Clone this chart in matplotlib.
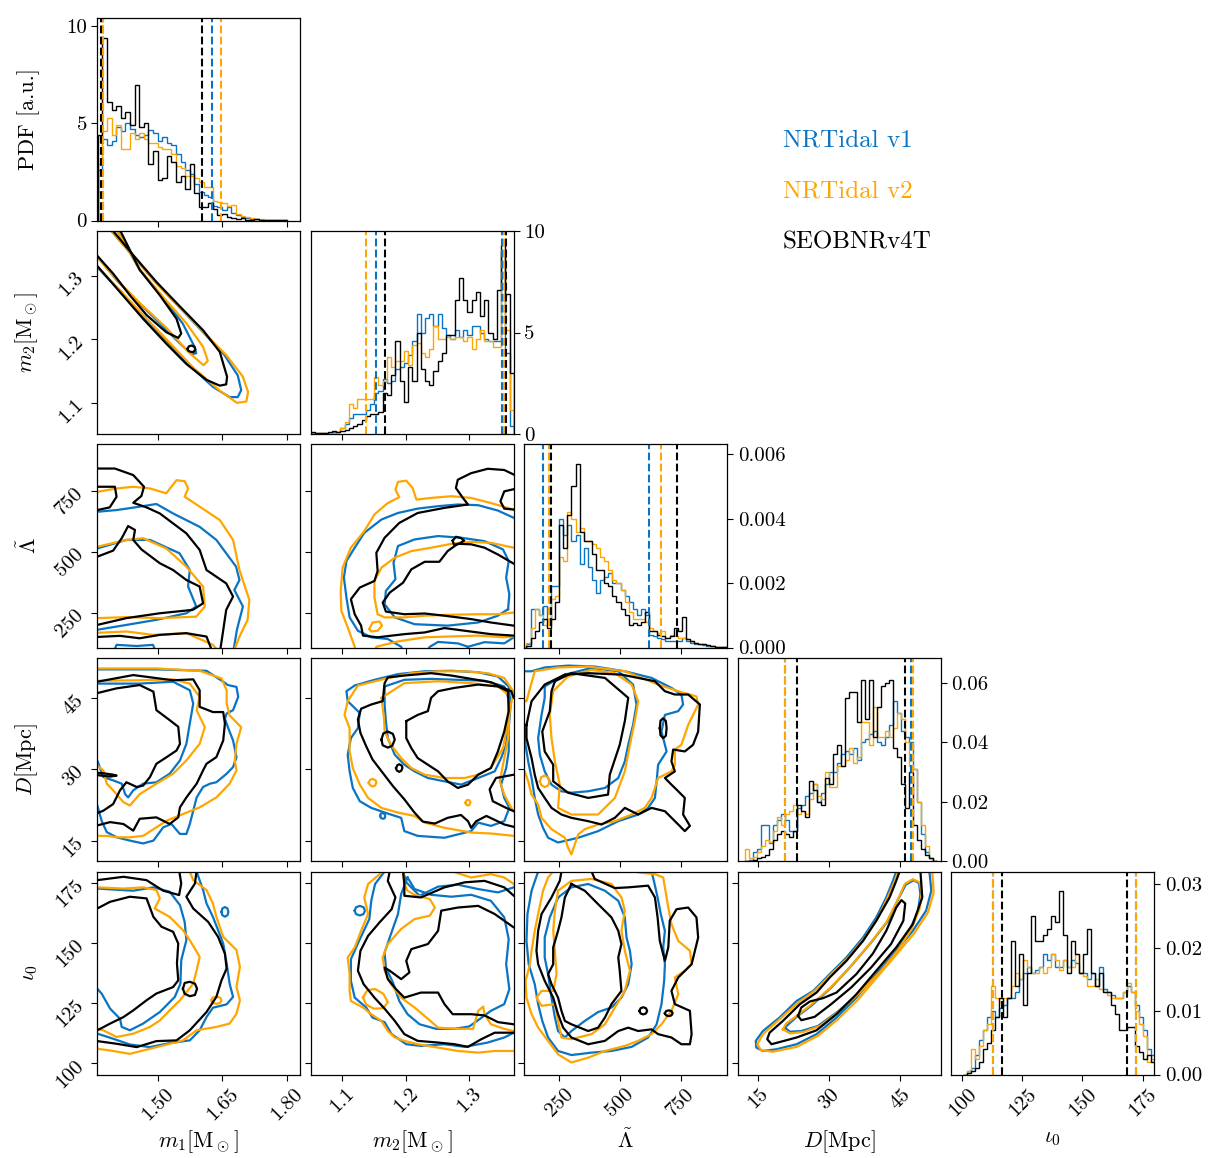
import numpy as np
import matplotlib
matplotlib.use("Agg")
import matplotlib.pyplot as plt
from matplotlib.ticker import FixedLocator

plt.rcParams["font.family"] = "serif"
plt.rcParams["font.serif"] = ["cmr10"]
plt.rcParams["mathtext.fontset"] = "cm"
plt.rcParams["axes.unicode_minus"] = False
plt.rcParams["axes.formatter.use_mathtext"] = True

models = ["NRTidal v1", "NRTidal v2", "SEOBNRv4T"]
colors = ["#0a74c4", "orange", "black"]

axis_labels = [r"$m_1[\mathrm{M}_\odot]$", r"$m_2[\mathrm{M}_\odot]$",
               r"$\tilde{\Lambda}$", r"$D[\mathrm{Mpc}]$", r"$\iota_0$"]
axis_limits = [(1.358, 1.832), (1.051, 1.370), (106, 942), (10.7, 53.5), (95.4, 179.9)]
axis_ticks = [[1.50, 1.65, 1.80], [1.1, 1.2, 1.3], [250, 500, 750], [15, 30, 45], [100, 125, 150, 175]]
tick_text = [["1.50", "1.65", "1.80"], ["1.1", "1.2", "1.3"], ["250", "500", "750"],
             ["15", "30", "45"], ["100", "125", "150", "175"]]
pdf_top = [10.45, 10.0, 0.0063, 0.0685, 0.032]
pdf_ticks = [[0, 5, 10], [0, 5, 10], [0, 0.002, 0.004, 0.006], [0, 0.02, 0.04, 0.06], [0, 0.01, 0.02, 0.03]]
pdf_text = [["0", "5", "10"], ["0", "5", "10"], ["0.000", "0.002", "0.004", "0.006"],
            ["0.00", "0.02", "0.04", "0.06"], ["0.00", "0.01", "0.02", "0.03"]]

# ---------------- 1D marginals (step histograms) ----------------
m1_edges = np.linspace(1.359, 1.800, 42)
m1_v1 = [2.6, 4.2, 3.9, 4.1, 4.8, 4.6, 5.0, 4.7, 4.4, 4.3, 4.4, 4.65, 4.5, 4.1, 4.3, 4.0, 3.9, 3.4, 3.0, 2.6,
         2.4, 1.9, 1.45, 1.3, 1.2, 0.75, 0.7, 0.55, 0.7, 0.4, 0.3, 0.2, 0.15, 0.1, 0.1, 0.05, 0.05, 0.03, 0.02,
         0.01, 0.01]
m1_v2 = [2.9, 4.6, 5.3, 4.4, 4.9, 3.7, 3.7, 4.5, 4.2, 4.5, 4.2, 4.0, 4.0, 3.8, 3.7, 3.7, 3.4, 2.8, 2.7, 2.3,
         2.3, 2.2, 2.0, 1.7, 1.7, 1.0, 0.95, 0.9, 0.75, 0.8, 0.35, 0.25, 0.2, 0.15, 0.1, 0.08, 0.05, 0.03, 0.02,
         0.01, 0.01]
m1_v4t = [4.4, 9.4, 6.1, 5.7, 5.9, 5.3, 5.6, 4.9, 7.0, 4.8, 5.0, 2.9, 3.6, 2.1, 2.2, 3.3, 3.0, 2.0, 2.3, 1.6,
          2.9, 1.4, 0.7, 0.7, 0.9, 0.6, 0.3, 0.35, 0.2, 0.15, 0.1, 0.15, 0.05, 0.05, 0.1, 0.05, 0.02, 0.02, 0.05,
          0.02, 0.01]

m2_edges = np.linspace(1.051, 1.370, 49)
m2_v1 = [0.03, 0.03, 0.03, 0.03, 0.05, 0.1, 0.1, 0.3, 0.5, 0.8, 1.0, 1.0, 1.0, 1.2, 1.5, 2.0, 2.1, 2.7, 2.5, 2.6,
         3.2, 3.3, 3.5, 3.9, 4.6, 5.9, 5.0, 5.7, 5.9, 5.3, 5.9, 5.2, 4.9, 4.7, 5.1, 4.8, 5.1, 4.9, 5.3, 5.3,
         5.0, 4.7, 4.6, 4.6, 4.6, 9.0, 4.0, 0.4]
m2_v2 = [0.05, 0.05, 0.05, 0.05, 0.05, 0.05, 0.1, 0.3, 0.6, 1.5, 1.3, 1.7, 1.7, 1.7, 1.7, 2.8, 2.4, 2.6, 3.8, 3.3,
         3.6, 3.6, 4.1, 3.4, 4.4, 4.5, 4.0, 3.8, 4.2, 5.3, 4.7, 4.7, 4.8, 4.7, 4.8, 4.8, 4.6, 4.8, 4.2, 4.7,
         5.1, 4.6, 4.6, 4.3, 4.3, 9.0, 5.1, 1.2]
m2_v4t = [0.1, 0.05, 0.05, 0.05, 0.1, 0.15, 0.1, 0.15, 0.2, 0.3, 0.4, 0.5, 0.7, 0.9, 1.0, 1.0, 1.1, 2.0, 1.9, 2.9,
          4.6, 2.6, 1.6, 3.3, 2.6, 5.0, 3.2, 2.6, 2.4, 3.1, 3.6, 4.0, 4.9, 4.9, 6.6, 7.7, 6.6, 6.0, 6.6, 7.0,
          5.8, 6.6, 5.0, 4.7, 7.1, 9.3, 6.9, 3.0]

lam_edges = np.linspace(115, 940, 50)
lam_v1 = np.array([0.1, 1.2, 1.2, 1.0, 1.3, 0.9, 1.9, 1.9, 4.0, 3.5, 3.8, 3.3, 3.5, 2.6, 3.1, 2.5, 2.1, 1.7, 2.1,
                   2.2, 2.3, 2.0, 2.0, 1.8, 1.6, 1.4, 1.2, 1.0, 1.2, 1.0, 0.4, 0.35, 0.3, 0.25, 0.2, 0.2, 0.2,
                   0.2, 0.3, 0.2, 0.15, 0.1, 0.1, 0.08, 0.05, 0.04, 0.03, 0.02, 0.01]) * 1e-3
lam_v2 = np.array([0.15, 0.6, 1.2, 1.0, 0.7, 0.7, 1.5, 1.6, 2.8, 2.7, 4.2, 4.0, 3.6, 3.7, 3.3, 3.3, 3.2, 3.1, 2.8,
                   2.7, 2.4, 2.1, 2.0, 1.8, 1.4, 1.1, 0.9, 0.9, 0.9, 0.8, 0.6, 0.5, 0.45, 0.5, 0.3, 0.4, 0.35,
                   0.3, 0.3, 0.25, 0.2, 0.15, 0.1, 0.1, 0.07, 0.05, 0.03, 0.02, 0.01]) * 1e-3
lam_v4t = np.array([0.05, 0.3, 0.5, 0.8, 0.9, 0.6, 0.9, 1.4, 3.8, 3.1, 4.1, 5.0, 5.7, 3.6, 3.3, 3.3, 2.9, 2.4, 2.4,
                    2.0, 1.9, 1.6, 1.4, 1.2, 1.0, 0.7, 0.75, 0.7, 0.8, 1.1, 0.5, 0.5, 0.4, 0.35, 0.3, 0.35, 0.6,
                    0.5, 0.95, 0.25, 0.2, 0.15, 0.1, 0.1, 0.07, 0.05, 0.03, 0.02, 0.01]) * 1e-3

dist_edges = np.linspace(12.2, 52.6, 49)
dist_v1 = np.array([0, 0.05, 0.3, 0.4, 1.2, 1.2, 0.6, 1.2, 1.4, 1.6, 1.4, 1.0, 1.0, 1.8, 1.9, 2.2, 2.3, 2.6, 2.0,
                    2.3, 2.6, 3.0, 3.0, 3.3, 3.6, 3.7, 3.6, 3.8, 3.4, 4.0, 4.1, 4.3, 4.4, 4.0, 3.9, 4.2, 4.6, 5.4,
                    5.0, 4.4, 4.2, 4.0, 3.1, 2.0, 0.9, 0.3, 0.1, 0.0]) * 1e-2
dist_v2 = np.array([0.4, 0.1, 0.15, 0.3, 0.5, 0.7, 0.65, 1.0, 1.5, 1.2, 1.6, 1.7, 1.9, 1.6, 1.7, 1.6, 2.1, 2.6, 2.2,
                    2.1, 3.0, 2.5, 2.5, 3.2, 3.2, 3.4, 3.8, 3.3, 3.5, 4.7, 4.7, 3.9, 5.2, 4.2, 4.2, 4.4, 4.2, 4.5,
                    5.0, 4.8, 4.0, 3.2, 3.1, 2.0, 1.2, 0.5, 0.1, 0.0]) * 1e-2
dist_v4t = np.array([0, 0, 0.05, 0.1, 0.15, 0.2, 0.4, 0.7, 0.9, 1.0, 0.9, 0.8, 1.0, 1.9, 1.7, 1.5, 2.7, 2.4, 2.0,
                     1.9, 2.8, 2.6, 3.6, 3.9, 3.2, 5.5, 5.7, 5.7, 4.7, 6.1, 4.8, 6.1, 4.2, 5.2, 5.9, 6.0, 6.1, 3.8,
                     3.5, 2.6, 1.8, 3.0, 1.2, 0.7, 0.4, 0.2, 0.1, 0.0]) * 1e-2

iota_edges = np.linspace(100.3, 180.2, 49)
iota_v1 = np.array([0, 0.05, 0.1, 0.3, 0.55, 0.7, 0.9, 1.0, 0.9, 1.05, 1.1, 1.2, 1.2, 1.3, 1.5, 1.6, 1.7, 1.6,
                    1.65, 1.7, 1.9, 1.8, 1.9, 1.7, 1.7, 1.8, 1.7, 1.8, 1.75, 1.6, 1.6, 1.5, 1.6, 1.4, 1.7, 1.35,
                    1.3, 1.25, 1.2, 1.2, 1.3, 1.4, 1.3, 1.1, 0.9, 0.7, 0.4, 0.3]) * 1e-2
iota_v2 = np.array([0, 0.05, 0.4, 0.25, 0.45, 0.7, 0.8, 1.4, 1.2, 1.15, 1.2, 1.2, 1.4, 1.6, 1.5, 1.8, 1.7, 1.6,
                    1.6, 1.7, 1.6, 1.7, 1.9, 1.8, 1.65, 1.8, 1.7, 1.7, 1.9, 1.6, 1.55, 1.4, 1.4, 1.5, 1.35, 1.3,
                    1.25, 1.2, 1.2, 1.2, 1.3, 1.45, 1.3, 1.0, 0.8, 0.6, 0.2, 0.25]) * 1e-2
iota_v4t = np.array([0.0, 0.02, 0.05, 0.1, 0.2, 0.4, 0.5, 0.7, 0.9, 1.2, 0.9, 1.2, 2.1, 1.4, 1.9, 1.1, 1.6, 2.5,
                     2.1, 2.1, 2.2, 2.3, 2.5, 2.4, 2.9, 2.2, 1.6, 2.1, 1.9, 1.6, 1.9, 2.3, 1.6, 1.4, 1.6, 1.3,
                     1.3, 1.1, 0.95, 0.7, 0.7, 0.75, 0.75, 0.45, 0.35, 0.25, 0.3, 0.2]) * 1e-2

# 90% credible bounds (dashed lines)
m1_ci = [[1.371, 1.626], [1.372, 1.646], [1.367, 1.603]]
m2_ci = [[1.153, 1.351], [1.138, 1.354], [1.168, 1.357]]
lam_ci = [[183, 619], [208, 667], [218, 735]]
dist_ci = [[20.6, 47.3], [20.75, 47.6], [23.1, 46.0]]
iota_ci = [[112.6, 172.1], [112.7, 172.4], [116.6, 168.5]]


# ---------------- 2D credible contours ----------------
def L(pts):
    return ("line", pts)


def C(pts):
    return ("loop", pts)


# m1 - m2
m1_m2_v1 = [
    L([(1.380, 1.379), (1.391, 1.370), (1.442, 1.330), (1.496, 1.288), (1.550, 1.250), (1.605, 1.211),
       (1.655, 1.175), (1.686, 1.143), (1.694, 1.120), (1.686, 1.109), (1.667, 1.109), (1.628, 1.125),
       (1.578, 1.156), (1.519, 1.198), (1.465, 1.236), (1.411, 1.276), (1.358, 1.313), (1.345, 1.322)]),
    L([(1.395, 1.379), (1.405, 1.370), (1.457, 1.309), (1.512, 1.265), (1.558, 1.224), (1.585, 1.188),
       (1.589, 1.178), (1.578, 1.176), (1.550, 1.194), (1.504, 1.225), (1.457, 1.256), (1.403, 1.293),
       (1.358, 1.330), (1.345, 1.339)]),
]
m1_m2_v2 = [
    L([(1.380, 1.379), (1.391, 1.370), (1.442, 1.330), (1.496, 1.288), (1.550, 1.250), (1.605, 1.212),
       (1.659, 1.175), (1.698, 1.141), (1.710, 1.117), (1.706, 1.102), (1.684, 1.100), (1.644, 1.119),
       (1.581, 1.156), (1.519, 1.200), (1.465, 1.238), (1.411, 1.277), (1.358, 1.314), (1.345, 1.323)]),
    L([(1.395, 1.379), (1.405, 1.370), (1.457, 1.310), (1.512, 1.266), (1.566, 1.225), (1.605, 1.188),
       (1.616, 1.166), (1.606, 1.159), (1.574, 1.178), (1.519, 1.218), (1.457, 1.257), (1.403, 1.294),
       (1.358, 1.329), (1.345, 1.337)]),
]
m1_m2_v4t = [
    L([(1.384, 1.379), (1.395, 1.370), (1.442, 1.332), (1.496, 1.290), (1.550, 1.252), (1.605, 1.214),
       (1.644, 1.180), (1.661, 1.141), (1.659, 1.129), (1.644, 1.127), (1.613, 1.136), (1.566, 1.161),
       (1.519, 1.193), (1.465, 1.232), (1.411, 1.274), (1.358, 1.315), (1.345, 1.324)]),
    L([(1.403, 1.379), (1.412, 1.370), (1.457, 1.309), (1.504, 1.269), (1.543, 1.232), (1.554, 1.209),
       (1.547, 1.202), (1.519, 1.211), (1.473, 1.238), (1.434, 1.269), (1.395, 1.303), (1.358, 1.331),
       (1.345, 1.340)]),
    C([(1.569, 1.185), (1.572, 1.189), (1.578, 1.190), (1.585, 1.188), (1.587, 1.184), (1.583, 1.180),
       (1.576, 1.180), (1.570, 1.182)]),
]

# m1 - Lambda
m1_lam_v1 = [
    L([(1.341, 665), (1.358, 665), (1.403, 672), (1.457, 686), (1.496, 697), (1.535, 658), (1.597, 603),
       (1.636, 549), (1.682, 439), (1.690, 384), (1.678, 343), (1.698, 275), (1.684, 179), (1.675, 83)]),
    L([(1.395, 83), (1.403, 117), (1.450, 112), (1.488, 117), (1.496, 83)]),
    L([(1.341, 514), (1.358, 514), (1.426, 549), (1.481, 549), (1.550, 494), (1.574, 425), (1.570, 357),
       (1.589, 275), (1.566, 247), (1.496, 220), (1.426, 199), (1.358, 179), (1.341, 176)]),
]
m1_lam_v2 = [
    L([(1.341, 747), (1.358, 747), (1.403, 761), (1.442, 768), (1.481, 761), (1.519, 741), (1.531, 768),
       (1.543, 795), (1.562, 791), (1.570, 761), (1.562, 727), (1.597, 686), (1.644, 631), (1.675, 549),
       (1.690, 425), (1.713, 302), (1.709, 220), (1.690, 151), (1.675, 83)]),
    L([(1.341, 165), (1.426, 172), (1.488, 158), (1.566, 165), (1.628, 117), (1.644, 83)]),
    L([(1.341, 521), (1.358, 521), (1.426, 549), (1.465, 556), (1.519, 514), (1.566, 439), (1.605, 357),
       (1.609, 275), (1.589, 233), (1.504, 227), (1.426, 231), (1.358, 227), (1.341, 227)]),
]
m1_lam_v4t = [
    L([(1.341, 843), (1.358, 843), (1.399, 843), (1.442, 816), (1.467, 768), (1.461, 730), (1.442, 702),
       (1.473, 683), (1.504, 658), (1.535, 617), (1.566, 576), (1.597, 508), (1.613, 425), (1.659, 370),
       (1.675, 316), (1.659, 261), (1.651, 165), (1.644, 83)]),
    L([(1.341, 148), (1.411, 154), (1.457, 144), (1.504, 158), (1.566, 165), (1.613, 151), (1.628, 83)]),
    L([(1.341, 768), (1.358, 768), (1.399, 768), (1.403, 727), (1.387, 683), (1.358, 672), (1.341, 672)]),
    L([(1.341, 480), (1.358, 480), (1.395, 505), (1.415, 556), (1.430, 606), (1.446, 590), (1.442, 549),
       (1.461, 510), (1.504, 453), (1.535, 425), (1.566, 384), (1.597, 357), (1.605, 288), (1.581, 261),
       (1.504, 247), (1.426, 227), (1.358, 199), (1.341, 195)]),
]

# m2 - Lambda
m2_lam_v1 = [
    L([(1.382, 640), (1.370, 640), (1.345, 670), (1.314, 692), (1.282, 695), (1.251, 688), (1.219, 678),
       (1.188, 660), (1.162, 633), (1.135, 578), (1.120, 517), (1.107, 462), (1.103, 394), (1.107, 312),
       (1.112, 230), (1.125, 175), (1.146, 148), (1.172, 141), (1.193, 109), (1.198, 79)]),
    L([(1.230, 79), (1.238, 109), (1.251, 129), (1.282, 123), (1.298, 109), (1.300, 79)]),
    L([(1.293, 79), (1.298, 109), (1.324, 128), (1.355, 123), (1.370, 148), (1.382, 155)]),
    C([(1.361, 264), (1.363, 325), (1.358, 394), (1.362, 462), (1.353, 510), (1.324, 544), (1.287, 558),
       (1.251, 565), (1.214, 551), (1.188, 524), (1.181, 455), (1.184, 387), (1.169, 339), (1.167, 284),
       (1.183, 230), (1.214, 202), (1.266, 196), (1.314, 209), (1.345, 237)]),
]
m2_lam_v2 = [
    L([(1.382, 674), (1.370, 674), (1.334, 701), (1.303, 722), (1.272, 729), (1.240, 722), (1.217, 715),
       (1.211, 763), (1.201, 793), (1.188, 788), (1.184, 756), (1.190, 725), (1.172, 701), (1.151, 654),
       (1.135, 585), (1.114, 517), (1.101, 435), (1.098, 339), (1.099, 257), (1.109, 189), (1.120, 109),
       (1.122, 79)]),
    L([(1.151, 79), (1.154, 109), (1.188, 131), (1.230, 148), (1.266, 151), (1.314, 155), (1.355, 148),
       (1.370, 151), (1.382, 151)]),
    L([(1.382, 517), (1.370, 517), (1.334, 537), (1.303, 541), (1.272, 533), (1.240, 517), (1.209, 503),
       (1.183, 476), (1.162, 435), (1.151, 380), (1.151, 312), (1.156, 243), (1.167, 230), (1.198, 230),
       (1.230, 237), (1.272, 241), (1.314, 243), (1.345, 243), (1.370, 250), (1.382, 250)]),
    C([(1.143, 182), (1.148, 209), (1.159, 213), (1.163, 196), (1.156, 175), (1.146, 172)]),
]
m2_lam_v4t = [
    L([(1.382, 818), (1.370, 818), (1.355, 837), (1.329, 842), (1.303, 824), (1.282, 797), (1.279, 763),
       (1.290, 722), (1.298, 695), (1.261, 681), (1.219, 660), (1.190, 619), (1.167, 558), (1.154, 496),
       (1.156, 421), (1.151, 380), (1.128, 353), (1.114, 305), (1.120, 243), (1.130, 196), (1.133, 155),
       (1.156, 148), (1.198, 161), (1.230, 168), (1.261, 186), (1.293, 175), (1.334, 161), (1.370, 155),
       (1.382, 155)]),
    L([(1.382, 760), (1.370, 758), (1.355, 749), (1.349, 708), (1.355, 678), (1.370, 674), (1.382, 674)]),
    L([(1.382, 442), (1.370, 451), (1.345, 489), (1.324, 517), (1.303, 531), (1.282, 533), (1.266, 503),
       (1.253, 459), (1.230, 459), (1.209, 428), (1.196, 373), (1.175, 332), (1.164, 291), (1.169, 254),
       (1.198, 243), (1.230, 246), (1.261, 237), (1.303, 223), (1.334, 209), (1.370, 196), (1.382, 192)]),
    C([(1.274, 546), (1.279, 562), (1.287, 557), (1.292, 546), (1.283, 532), (1.276, 529)]),
]

# m1 - D
m1_dist_v1 = [
    L([(1.341, 51.1), (1.358, 51.1), (1.496, 51.1), (1.613, 50.8), (1.652, 48.5), (1.663, 47.8), (1.683, 47.4),
       (1.687, 45.3), (1.675, 42.5), (1.660, 41.8), (1.656, 40.7), (1.663, 38.9), (1.675, 36.1), (1.683, 32.6),
       (1.675, 30.5), (1.660, 29.1), (1.636, 27.3), (1.621, 27.0), (1.605, 26.3), (1.590, 24.1), (1.582, 21.3),
       (1.574, 18.5), (1.566, 16.4), (1.551, 16.4), (1.531, 18.5), (1.512, 17.8), (1.489, 15.0), (1.465, 14.4),
       (1.434, 15.0), (1.403, 15.7), (1.380, 16.8), (1.368, 19.2), (1.358, 22.4), (1.341, 22.4)]),
    L([(1.341, 48.1), (1.358, 48.1), (1.457, 48.1), (1.535, 48.5), (1.574, 46.7), (1.582, 43.9), (1.574, 39.7),
       (1.566, 35.4), (1.551, 31.9), (1.527, 29.1), (1.496, 27.3), (1.465, 27.0), (1.442, 25.6), (1.430, 24.1),
       (1.423, 24.8), (1.415, 27.0), (1.395, 27.7), (1.372, 28.4), (1.358, 31.9), (1.341, 31.9)]),
]
m1_dist_v2 = [
    L([(1.341, 51.3), (1.358, 51.3), (1.496, 51.3), (1.597, 50.8), (1.648, 49.2), (1.660, 46.7), (1.660, 43.9),
       (1.667, 41.4), (1.694, 38.9), (1.683, 35.4), (1.679, 31.9), (1.683, 29.8), (1.667, 27.0), (1.636, 24.1),
       (1.597, 22.0), (1.558, 20.6), (1.520, 19.2), (1.496, 17.8), (1.465, 16.0), (1.434, 15.7), (1.403, 15.7),
       (1.380, 16.0), (1.358, 16.0), (1.341, 16.0)]),
    L([(1.341, 48.7), (1.358, 48.7), (1.457, 48.8), (1.535, 49.0), (1.574, 48.1), (1.597, 45.3), (1.590, 42.5),
       (1.609, 38.9), (1.597, 35.4), (1.566, 31.9), (1.535, 29.1), (1.496, 27.0), (1.457, 24.8), (1.434, 22.4),
       (1.419, 23.1), (1.395, 25.6), (1.380, 27.0), (1.372, 29.8), (1.358, 30.8), (1.341, 30.8)]),
]
m1_dist_v4t = [
    L([(1.341, 48.5), (1.358, 48.5), (1.442, 49.9), (1.535, 48.8), (1.582, 49.0), (1.597, 46.7), (1.597, 43.2),
       (1.628, 42.1), (1.652, 42.1), (1.656, 39.7), (1.652, 36.1), (1.636, 32.6), (1.613, 31.2), (1.605, 29.8),
       (1.590, 27.0), (1.566, 24.1), (1.551, 22.0), (1.547, 19.9), (1.527, 18.5), (1.496, 19.9), (1.457, 19.6),
       (1.442, 17.1), (1.419, 18.5), (1.388, 18.9), (1.358, 18.2), (1.341, 18.2)]),
    L([(1.341, 46.1), (1.358, 46.1), (1.403, 47.1), (1.457, 47.8), (1.489, 46.4), (1.496, 42.5), (1.527, 40.4),
       (1.547, 39.0), (1.551, 35.4), (1.543, 34.0), (1.520, 32.6), (1.496, 31.2), (1.481, 28.4), (1.465, 26.6),
       (1.450, 26.3), (1.426, 27.3), (1.411, 25.6), (1.395, 22.7), (1.372, 21.3), (1.358, 20.8), (1.341, 20.8)]),
    L([(1.341, 29.3), (1.358, 29.3), (1.372, 29.2), (1.395, 28.9), (1.403, 28.7), (1.388, 28.5), (1.358, 28.8),
       (1.341, 28.8)]),
]

# m2 - D
m2_dist_v1 = [
    C([(1.128, 41.9), (1.109, 44.4), (1.107, 46.5), (1.120, 47.7), (1.151, 48.9), (1.188, 50.1), (1.230, 50.7),
       (1.272, 50.8), (1.314, 50.5), (1.345, 49.6), (1.362, 47.5), (1.365, 43.7), (1.362, 38.7), (1.362, 33.8),
       (1.358, 30.3), (1.350, 26.8), (1.355, 24.0), (1.363, 21.9), (1.355, 19.1), (1.334, 18.1), (1.314, 18.8),
       (1.303, 17.0), (1.261, 15.6), (1.219, 16.0), (1.198, 17.0), (1.193, 19.8), (1.172, 20.7), (1.146, 21.9),
       (1.128, 23.3), (1.117, 26.1), (1.112, 29.6), (1.109, 33.1), (1.114, 36.6), (1.125, 38.7)]),
    C([(1.167, 47.5), (1.198, 48.9), (1.240, 49.1), (1.282, 48.9), (1.324, 48.7), (1.355, 47.5), (1.363, 44.4),
       (1.361, 39.4), (1.358, 35.2), (1.350, 32.4), (1.340, 29.6), (1.314, 28.2), (1.287, 26.8), (1.261, 27.5),
       (1.235, 28.2), (1.214, 29.6), (1.198, 31.0), (1.183, 33.1), (1.172, 36.6), (1.169, 40.2), (1.167, 43.7)]),
    C([(1.160, 20.2), (1.161, 20.7), (1.164, 20.8), (1.167, 20.6), (1.168, 20.2), (1.167, 19.7), (1.164, 19.6),
       (1.161, 19.8)]),
]
m2_dist_v2 = [
    L([(1.382, 16.0), (1.370, 16.0), (1.334, 16.5), (1.303, 16.7), (1.261, 17.7), (1.230, 18.8), (1.214, 20.2),
       (1.188, 20.9), (1.162, 21.9), (1.141, 24.0), (1.128, 26.8), (1.117, 30.3), (1.112, 33.8), (1.112, 38.7),
       (1.104, 41.5), (1.109, 44.4), (1.125, 47.7), (1.167, 49.1), (1.209, 50.3), (1.251, 50.7), (1.293, 50.7),
       (1.329, 50.3), (1.355, 49.3), (1.369, 46.5), (1.363, 41.5), (1.361, 36.6), (1.355, 32.4), (1.348, 27.5),
       (1.355, 24.7), (1.366, 21.9), (1.382, 19.1)]),
    C([(1.162, 45.1), (1.198, 48.2), (1.251, 48.6), (1.303, 48.2), (1.345, 47.5), (1.361, 45.8), (1.362, 42.3),
       (1.358, 38.0), (1.353, 34.5), (1.334, 30.3), (1.314, 28.9), (1.293, 28.2), (1.261, 28.2), (1.230, 28.9),
       (1.209, 30.3), (1.193, 32.4), (1.177, 35.2), (1.167, 38.0), (1.166, 40.8)]),
    C([(1.142, 27.2), (1.144, 27.8), (1.148, 28.0), (1.153, 27.7), (1.154, 27.2), (1.152, 26.6), (1.148, 26.4),
       (1.144, 26.7)]),
    C([(1.294, 23.0), (1.296, 23.5), (1.298, 23.6), (1.301, 23.4), (1.302, 23.0), (1.300, 22.5), (1.298, 22.4),
       (1.295, 22.6)]),
]
m2_dist_v4t = [
    L([(1.376, 44.4), (1.370, 45.1), (1.366, 46.5), (1.334, 48.4), (1.303, 49.1), (1.272, 49.8), (1.240, 50.3),
       (1.198, 49.8), (1.172, 49.4), (1.167, 48.2), (1.164, 44.4), (1.146, 43.7), (1.130, 42.8), (1.125, 40.5),
       (1.129, 37.7), (1.138, 34.9), (1.148, 32.1), (1.164, 29.3), (1.180, 26.5), (1.198, 23.7), (1.214, 20.9),
       (1.227, 19.0), (1.246, 18.6), (1.266, 19.8), (1.287, 20.4), (1.298, 19.1), (1.303, 17.7), (1.311, 19.1),
       (1.327, 20.2), (1.355, 18.4), (1.376, 17.7)]),
    L([(1.376, 28.9), (1.370, 28.9), (1.342, 28.2), (1.332, 25.8), (1.337, 23.3), (1.358, 21.9), (1.370, 21.2),
       (1.376, 21.2)]),
    C([(1.201, 40.2), (1.219, 41.5), (1.235, 42.3), (1.240, 45.1), (1.251, 46.5), (1.277, 47.2), (1.314, 47.9),
       (1.345, 47.5), (1.361, 46.5), (1.362, 42.3), (1.355, 38.0), (1.345, 33.8), (1.334, 30.3), (1.314, 28.9),
       (1.298, 26.8), (1.282, 26.1), (1.266, 27.5), (1.251, 29.6), (1.235, 31.0), (1.219, 32.4), (1.209, 34.5),
       (1.201, 36.6)]),
    C([(1.162, 36.3), (1.165, 37.6), (1.172, 38.0), (1.180, 37.5), (1.183, 36.3), (1.179, 35.0), (1.172, 34.6),
       (1.164, 35.1)]),
    C([(1.185, 30.3), (1.187, 30.9), (1.190, 31.1), (1.194, 30.8), (1.195, 30.3), (1.193, 29.7), (1.190, 29.5),
       (1.186, 29.8)]),
]

# Lambda - D
lam_dist_v1 = [
    L([(81, 50.7), (136, 50.7), (190, 51.5), (286, 51.9), (396, 51.7), (520, 50.7), (630, 49.3), (712, 47.2),
       (753, 45.8), (760, 43.7), (740, 42.3), (685, 41.5), (671, 38.0), (692, 33.8), (657, 31.0), (651, 27.5),
       (644, 24.0), (616, 21.9), (575, 20.5), (493, 19.1), (410, 17.0), (328, 15.6), (245, 14.6), (204, 15.6),
       (183, 17.7), (163, 20.5), (149, 24.0), (136, 28.2), (122, 31.7), (111, 35.2), (108, 39.4), (81, 39.4)]),
    C([(190, 47.5), (273, 50.0), (383, 51.4), (493, 50.7), (554, 47.9), (568, 43.7), (554, 39.4), (534, 35.2),
       (520, 31.7), (493, 28.2), (438, 26.1), (369, 25.4), (300, 25.1), (259, 25.4), (218, 26.8), (190, 29.6),
       (170, 33.1), (163, 36.6), (177, 41.5), (190, 45.1)]),
]
lam_dist_v2 = [
    L([(81, 44.4), (115, 44.4), (149, 50.7), (245, 51.5), (369, 51.7), (520, 50.7), (657, 47.9), (740, 46.5),
       (815, 45.4), (822, 43.7), (801, 41.5), (781, 39.4), (753, 35.2), (726, 34.2), (726, 31.0), (712, 29.6),
       (657, 28.2), (630, 24.0), (602, 21.9), (548, 20.5), (479, 19.1), (410, 18.4), (355, 17.4), (328, 16.3),
       (300, 12.1), (286, 13.5), (273, 15.6), (218, 17.4), (177, 19.8), (163, 22.6), (136, 24.7), (122, 27.5),
       (108, 29.6), (81, 31.0)]),
    C([(211, 41.5), (218, 36.6), (232, 31.7), (252, 26.8), (245, 21.9), (300, 20.5), (410, 20.5), (479, 24.0),
       (520, 29.6), (541, 35.2), (561, 40.2), (575, 44.4), (548, 47.9), (479, 50.3), (383, 51.0), (286, 49.6),
       (225, 46.5)]),
    C([(170, 27.5), (176, 28.4), (190, 28.7), (204, 28.3), (210, 27.5), (204, 26.6), (190, 26.3), (176, 26.7)]),
]
lam_dist_v4t = [
    C([(115, 39.4), (136, 44.4), (190, 47.9), (273, 50.0), (369, 50.3), (506, 50.0), (644, 48.6), (685, 46.5),
       (726, 45.8), (781, 45.8), (829, 43.7), (822, 38.0), (801, 35.2), (767, 33.8), (719, 34.2), (712, 31.7),
       (726, 29.6), (685, 28.2), (712, 26.8), (740, 25.4), (767, 24.0), (760, 20.5), (788, 18.1), (767, 17.0),
       (740, 18.4), (685, 21.2), (630, 21.9), (575, 20.5), (520, 21.9), (479, 19.8), (424, 18.4), (369, 19.1),
       (300, 19.8), (259, 20.5), (218, 21.9), (190, 24.0), (163, 26.1), (149, 28.9), (136, 32.4), (115, 36.6)]),
    C([(232, 48.6), (300, 50.3), (438, 49.3), (534, 45.1), (520, 40.2), (499, 35.2), (458, 28.9), (451, 24.7),
       (369, 24.0), (286, 25.1), (225, 27.5), (225, 31.0), (190, 33.8), (180, 38.0), (211, 42.3), (218, 46.5)]),
    C([(664, 38.7), (667, 40.3), (678, 40.8), (689, 40.2), (692, 38.7), (689, 37.1), (678, 36.6), (667, 37.2)]),
]

# m1 - iota
m1_iota_v1 = [
    L([(1.341, 172.8), (1.358, 172.8), (1.442, 171.9), (1.489, 173.3), (1.527, 171.5), (1.551, 165.9),
       (1.562, 158.9), (1.566, 151.3), (1.554, 143.0), (1.552, 133.2), (1.539, 127.7), (1.504, 121.4),
       (1.465, 116.6), (1.434, 113.8), (1.415, 115.2), (1.411, 118.6), (1.388, 122.8), (1.368, 129.1),
       (1.358, 131.1), (1.341, 131.1)]),
    L([(1.590, 183.3), (1.590, 179.8), (1.605, 172.2), (1.613, 166.6), (1.628, 161.0), (1.640, 155.5),
       (1.652, 149.9), (1.660, 141.6), (1.667, 133.2), (1.675, 127.7), (1.660, 124.6), (1.628, 123.2),
       (1.613, 119.3), (1.597, 113.8), (1.574, 109.6), (1.527, 108.5), (1.481, 106.8), (1.434, 107.9),
       (1.388, 110.7), (1.358, 112.4), (1.341, 112.4)]),
    C([(1.648, 163.1), (1.650, 164.5), (1.656, 165.1), (1.662, 164.5), (1.664, 163.1), (1.662, 161.7),
       (1.656, 161.1), (1.650, 161.7)]),
]
m1_iota_v2 = [
    L([(1.574, 183.3), (1.574, 179.8), (1.582, 176.3), (1.613, 172.2), (1.628, 166.6), (1.636, 161.0),
       (1.652, 152.7), (1.683, 147.2), (1.691, 140.2), (1.683, 131.8), (1.691, 126.3), (1.683, 120.7),
       (1.667, 116.6), (1.636, 115.2), (1.590, 113.8), (1.558, 109.6), (1.527, 108.2), (1.481, 106.1),
       (1.434, 104.0), (1.388, 105.4), (1.358, 106.1), (1.341, 106.1)]),
    L([(1.341, 173.3), (1.358, 173.3), (1.419, 172.8), (1.465, 173.3), (1.496, 172.2), (1.504, 168.7),
       (1.492, 164.5), (1.527, 161.0), (1.558, 155.5), (1.574, 151.3), (1.597, 144.4), (1.590, 138.8),
       (1.582, 133.2), (1.551, 126.3), (1.527, 122.1), (1.504, 117.9), (1.481, 115.2), (1.442, 112.4),
       (1.403, 111.0), (1.372, 113.8), (1.358, 114.5), (1.341, 114.5)]),
    C([(1.624, 126.3), (1.627, 127.4), (1.636, 127.8), (1.645, 127.4), (1.648, 126.3), (1.645, 125.2),
       (1.636, 124.8), (1.627, 125.2)]),
]
m1_iota_v4t = [
    L([(1.341, 176.3), (1.358, 176.3), (1.419, 177.7), (1.473, 176.3), (1.512, 171.9), (1.549, 170.1),
       (1.554, 174.9), (1.549, 180.5), (1.548, 183.0)]),
    L([(1.590, 183.0), (1.590, 180.5), (1.586, 174.9), (1.566, 169.4), (1.582, 164.5), (1.617, 158.9),
       (1.640, 152.7), (1.656, 145.7), (1.660, 139.5), (1.648, 134.6), (1.636, 127.7), (1.613, 121.4),
       (1.574, 113.8), (1.543, 109.6), (1.496, 109.3), (1.450, 106.8), (1.403, 108.2), (1.358, 109.3),
       (1.341, 109.3)]),
    L([(1.341, 164.5), (1.358, 164.5), (1.388, 167.3), (1.434, 169.4), (1.473, 168.7), (1.489, 161.0),
       (1.508, 156.9), (1.535, 154.8), (1.547, 149.9), (1.544, 141.6), (1.547, 134.6), (1.535, 131.8),
       (1.496, 129.1), (1.473, 126.3), (1.442, 122.1), (1.419, 119.3), (1.388, 116.6), (1.358, 113.8),
       (1.341, 113.8)]),
    C([(1.558, 131.1), (1.562, 133.5), (1.574, 134.0), (1.586, 133.2), (1.591, 131.1), (1.586, 128.5),
       (1.574, 128.0), (1.562, 129.0)]),
]

# m2 - iota
m2_iota_v1 = [
    L([(1.167, 183.0), (1.167, 179.9), (1.152, 174.7), (1.146, 167.7), (1.143, 160.1), (1.128, 151.7),
       (1.114, 143.4), (1.114, 134.4), (1.120, 127.4), (1.138, 123.3), (1.148, 119.1), (1.167, 117.2),
       (1.178, 112.2), (1.201, 108.0), (1.224, 107.3), (1.261, 108.0), (1.293, 106.9), (1.329, 108.7),
       (1.355, 110.8), (1.370, 112.8), (1.382, 113.5)]),
    L([(1.193, 183.0), (1.196, 179.9), (1.201, 175.4), (1.222, 169.8), (1.251, 173.6), (1.282, 174.4),
       (1.314, 172.6), (1.345, 171.2), (1.370, 173.3), (1.382, 174.0)]),
    C([(1.203, 177.4), (1.193, 170.5), (1.188, 162.2), (1.175, 152.4), (1.167, 146.2), (1.169, 139.9),
       (1.180, 133.7), (1.190, 126.0), (1.203, 120.5), (1.222, 116.3), (1.248, 114.4), (1.277, 114.4),
       (1.300, 115.4), (1.317, 118.6), (1.334, 121.9), (1.355, 124.7), (1.363, 130.9), (1.358, 141.3),
       (1.362, 151.7), (1.355, 160.8), (1.334, 167.7), (1.303, 170.2), (1.272, 169.4), (1.240, 170.2),
       (1.214, 172.6)]),
    C([(1.120, 163.6), (1.122, 165.0), (1.128, 165.6), (1.134, 165.0), (1.136, 163.6), (1.134, 162.2),
       (1.128, 161.6), (1.122, 162.2)]),
]
m2_iota_v2 = [
    L([(1.164, 183.0), (1.164, 179.9), (1.141, 174.7), (1.135, 169.1), (1.141, 162.2), (1.130, 155.2),
       (1.120, 148.3), (1.109, 144.1), (1.112, 137.2), (1.112, 130.2), (1.114, 126.0), (1.133, 123.3),
       (1.146, 120.5), (1.162, 117.7), (1.172, 113.5), (1.183, 110.8), (1.198, 109.4), (1.219, 108.0),
       (1.251, 106.6), (1.282, 105.2), (1.314, 104.5), (1.340, 105.2), (1.370, 105.2), (1.382, 105.2)]),
    L([(1.272, 183.0), (1.274, 179.9), (1.303, 177.4), (1.334, 178.8), (1.355, 177.4), (1.370, 174.7),
       (1.382, 174.0)]),
    L([(1.382, 113.5), (1.370, 113.5), (1.355, 114.4), (1.334, 116.3), (1.324, 120.5), (1.322, 123.7),
       (1.314, 121.9), (1.306, 114.4), (1.282, 114.4), (1.251, 114.9), (1.235, 118.6), (1.214, 123.3),
       (1.193, 127.4), (1.177, 133.0), (1.167, 138.6), (1.164, 144.1), (1.172, 149.7), (1.193, 156.0),
       (1.214, 160.1), (1.238, 161.5), (1.246, 164.9), (1.238, 168.4), (1.214, 170.2), (1.203, 171.9),
       (1.198, 174.7), (1.196, 179.9), (1.196, 183.0)]),
    C([(1.133, 127.5), (1.140, 130.5), (1.152, 131.0), (1.165, 129.0), (1.172, 125.5), (1.165, 123.0),
       (1.150, 122.8), (1.138, 124.5)]),
]
m2_iota_v4t = [
    L([(1.382, 156.3), (1.370, 156.6), (1.340, 162.2), (1.314, 165.6), (1.282, 164.9), (1.256, 163.6),
       (1.251, 155.2), (1.235, 149.7), (1.209, 147.6), (1.201, 142.7), (1.206, 137.9), (1.193, 135.1),
       (1.175, 138.6), (1.167, 139.9), (1.172, 135.1), (1.185, 130.9), (1.198, 127.4), (1.224, 129.5),
       (1.251, 129.5), (1.261, 124.7), (1.274, 120.5), (1.303, 120.5), (1.324, 120.0), (1.345, 117.2),
       (1.370, 116.3), (1.382, 116.0)]),
    L([(1.175, 183.0), (1.175, 179.9), (1.172, 176.0), (1.184, 169.1), (1.178, 164.2), (1.159, 158.7),
       (1.141, 153.1), (1.129, 146.9), (1.125, 138.6), (1.134, 133.0), (1.151, 127.4), (1.167, 122.8),
       (1.183, 117.7), (1.198, 112.2), (1.219, 109.4), (1.251, 108.7), (1.277, 108.0), (1.298, 106.9),
       (1.319, 110.1), (1.340, 112.8), (1.370, 112.8), (1.382, 112.8)]),
    L([(1.196, 183.0), (1.196, 179.9), (1.198, 174.7), (1.198, 169.8), (1.224, 169.1), (1.261, 173.3),
       (1.293, 175.4), (1.324, 176.0), (1.355, 173.3), (1.370, 169.8), (1.382, 169.1)]),
]

# Lambda - iota
lam_iota_v1 = [
    L([(149, 183.0), (163, 179.9), (136, 171.9), (119, 162.2), (115, 151.0), (124, 141.3), (149, 133.0),
       (163, 124.7), (180, 117.7), (204, 110.8), (245, 105.2), (300, 103.5), (383, 104.5), (465, 105.2),
       (548, 106.9), (616, 110.8), (651, 116.3), (671, 124.7), (682, 134.4), (685, 141.3), (678, 148.3),
       (685, 155.2), (668, 162.2), (655, 169.1), (641, 175.4), (630, 179.9), (623, 183.0)]),
    C([(245, 169.1), (300, 173.3), (369, 174.7), (438, 171.9), (493, 167.7), (520, 160.8), (527, 152.4),
       (541, 146.9), (548, 141.3), (534, 133.0), (506, 127.4), (465, 123.3), (410, 121.4), (355, 117.7),
       (300, 113.5), (273, 110.8), (245, 113.5), (232, 119.1), (218, 127.4), (204, 137.2), (190, 144.1),
       (190, 152.4), (211, 160.8)]),
]
lam_iota_v2 = [
    L([(225, 183.0), (225, 179.9), (204, 177.4), (183, 171.9), (163, 162.2), (149, 155.2), (136, 146.9),
       (129, 141.3), (119, 137.2), (111, 134.4), (115, 127.4), (136, 120.5), (163, 114.9), (204, 109.4),
       (245, 103.8), (300, 100.4), (369, 102.4), (438, 105.2), (520, 107.3), (575, 109.4), (630, 112.2),
       (671, 116.3), (712, 121.9), (740, 128.8), (726, 135.8), (767, 138.6), (795, 141.3), (788, 146.9),
       (740, 151.0), (712, 158.0), (699, 164.9), (685, 173.3), (678, 177.4), (644, 178.8), (575, 179.5),
       (548, 183.0)]),
    C([(245, 171.9), (300, 176.0), (383, 176.8), (465, 174.7), (506, 169.1), (520, 163.6), (506, 155.2),
       (520, 146.9), (541, 138.6), (520, 130.2), (479, 123.3), (438, 116.3), (383, 112.2), (300, 110.1),
       (259, 110.8), (245, 117.7), (232, 124.7), (177, 124.0), (156, 127.4), (177, 130.2), (225, 130.2),
       (239, 137.2), (232, 146.9), (225, 155.2), (232, 163.6)]),
]
lam_iota_v4t = [
    C([(300, 174.7), (355, 171.9), (410, 166.3), (465, 160.8), (493, 155.2), (506, 149.7), (493, 144.1),
       (499, 138.6), (506, 130.2), (465, 124.7), (438, 119.1), (410, 114.9), (369, 113.5), (300, 116.3),
       (273, 117.7), (259, 121.9), (245, 127.4), (218, 133.0), (204, 137.2), (225, 141.3), (225, 148.3),
       (245, 155.2), (259, 160.8), (273, 169.1)]),
    L([(259, 183.0), (259, 179.9), (252, 176.0), (218, 169.1), (177, 162.2), (163, 155.2), (156, 146.9),
       (163, 141.3), (190, 134.4), (225, 127.4), (245, 120.5), (266, 114.9), (300, 110.8), (369, 108.0),
       (438, 109.4), (493, 113.5), (534, 114.9), (575, 113.5), (630, 114.2), (657, 112.2), (712, 110.8),
       (753, 108.0), (788, 108.0), (795, 112.2), (788, 121.9), (726, 124.7), (712, 130.2), (740, 135.8),
       (795, 141.3), (822, 152.4), (815, 160.8), (781, 164.9), (733, 164.2), (705, 159.4), (699, 148.3),
       (685, 142.7), (664, 151.0), (655, 160.8), (644, 169.1), (616, 174.0), (534, 173.3), (479, 173.0),
       (396, 176.8), (383, 179.9), (383, 183.0)]),
    C([(580, 121.9), (585, 123.0), (596, 123.4), (607, 123.0), (612, 121.9), (607, 120.8), (596, 120.4),
       (585, 120.8)]),
    C([(685, 120.9), (690, 121.8), (701, 122.1), (712, 121.8), (717, 120.9), (712, 120.0), (701, 119.7),
       (690, 120.0)]),
]

# D - iota
dist_iota_v1 = [
    L([(43.4, 183.0), (44.1, 179.9), (43.4, 176.0), (42.0, 169.1), (39.9, 160.8), (37.1, 152.4), (33.6, 144.1),
       (30.1, 137.2), (26.6, 130.2), (23.1, 126.0), (19.5, 119.1), (16.0, 113.5), (14.5, 109.4), (14.6, 106.6),
       (16.0, 105.2), (18.8, 105.9), (23.1, 108.0), (27.3, 112.2), (31.5, 119.1), (35.7, 127.4), (39.9, 137.2),
       (44.1, 146.9), (47.6, 155.2), (50.4, 163.6), (51.5, 171.9), (51.1, 179.9), (51.1, 183.0)]),
    C([(20.6, 114.9), (23.1, 119.4), (26.2, 124.0), (30.4, 131.6), (34.6, 140.6), (38.8, 150.3), (42.4, 159.4),
       (44.7, 169.1), (46.1, 174.4), (47.8, 176.3), (48.9, 175.0), (49.2, 170.5), (48.7, 163.6), (46.9, 155.2),
       (44.1, 146.6), (40.3, 137.5), (36.1, 129.1), (31.8, 121.6), (27.6, 115.6), (24.1, 113.5), (21.7, 113.2)]),
]
dist_iota_v2 = [
    L([(43.8, 183.0), (44.5, 179.9), (43.8, 176.0), (42.3, 169.1), (40.3, 160.8), (37.5, 152.4), (34.0, 144.1),
       (30.4, 137.2), (26.9, 130.2), (23.4, 125.3), (19.5, 118.4), (16.0, 112.2), (14.8, 108.0), (15.6, 105.5),
       (18.1, 104.9), (23.1, 106.9), (27.6, 111.5), (31.8, 118.4), (36.1, 126.7), (40.3, 136.5), (44.5, 146.2),
       (48.0, 154.5), (50.8, 162.9), (52.0, 171.2), (51.7, 179.9), (51.7, 183.0)]),
    C([(20.2, 114.2), (20.9, 116.6), (23.1, 119.8), (25.9, 124.0), (30.1, 131.3), (34.3, 139.9), (38.5, 149.7),
       (42.0, 158.7), (44.5, 168.4), (45.9, 174.7), (47.6, 176.7), (49.0, 175.4), (49.5, 171.2), (49.0, 164.2),
       (47.3, 155.9), (44.5, 147.2), (40.6, 137.9), (36.4, 129.5), (32.2, 121.9), (28.0, 115.6), (24.5, 113.1),
       (21.7, 112.5)]),
]
dist_iota_v4t = [
    L([(44.5, 183.0), (44.8, 179.9), (44.1, 176.0), (42.7, 169.1), (39.9, 159.4), (37.1, 151.0), (33.6, 142.7),
       (30.1, 135.8), (27.3, 129.5), (23.8, 124.7), (20.2, 117.7), (17.4, 112.8), (16.9, 110.1), (17.8, 108.0),
       (23.1, 110.8), (27.3, 113.8), (31.5, 120.5), (35.7, 128.8), (39.9, 138.6), (44.1, 148.3), (47.6, 158.0),
       (49.6, 169.1), (49.2, 179.9), (49.2, 183.0)]),
    C([(23.4, 119.8), (24.1, 123.3), (25.9, 125.8), (28.7, 127.2), (31.5, 129.5), (35.7, 137.2), (39.2, 145.8),
       (42.0, 155.2), (44.1, 164.9), (45.2, 168.0), (46.0, 166.6), (45.6, 159.4), (43.0, 149.7), (38.8, 139.9),
       (34.6, 131.6), (30.4, 124.7), (26.9, 119.4), (24.1, 118.0)]),
]

# ---------------- figure ----------------
hist_data = [
    (m1_edges, [m1_v1, m1_v2, m1_v4t], m1_ci),
    (m2_edges, [m2_v1, m2_v2, m2_v4t], m2_ci),
    (lam_edges, [lam_v1, lam_v2, lam_v4t], lam_ci),
    (dist_edges, [dist_v1, dist_v2, dist_v4t], dist_ci),
    (iota_edges, [iota_v1, iota_v2, iota_v4t], iota_ci),
]
contours = {
    (1, 0): [m1_m2_v1, m1_m2_v2, m1_m2_v4t],
    (2, 0): [m1_lam_v1, m1_lam_v2, m1_lam_v4t],
    (2, 1): [m2_lam_v1, m2_lam_v2, m2_lam_v4t],
    (3, 0): [m1_dist_v1, m1_dist_v2, m1_dist_v4t],
    (3, 1): [m2_dist_v1, m2_dist_v2, m2_dist_v4t],
    (3, 2): [lam_dist_v1, lam_dist_v2, lam_dist_v4t],
    (4, 0): [m1_iota_v1, m1_iota_v2, m1_iota_v4t],
    (4, 1): [m2_iota_v1, m2_iota_v2, m2_iota_v4t],
    (4, 2): [lam_iota_v1, lam_iota_v2, lam_iota_v4t],
    (4, 3): [dist_iota_v1, dist_iota_v2, dist_iota_v4t],
}

W, H = 1210, 1158
fig = plt.figure(figsize=(W / 100, H / 100), dpi=100)
x0, y0, step, size = 97.3, 17.5, 213.5, 203.0
axes = {}
for i in range(5):
    for j in range(i + 1):
        rect = [(x0 + j * step) / W, 1 - (y0 + i * step + size) / H, size / W, size / H]
        axes[i, j] = fig.add_axes(rect)

for k in range(5):
    ax = axes[k, k]
    edges, heights, ci = hist_data[k]
    for h, c in zip(heights, colors):
        ax.stairs(h, edges, color=c, lw=1.0)
    for bounds, c in zip(ci, colors):
        for v in bounds:
            ax.axvline(v, color=c, ls="--", lw=1.5)
    ax.set_xlim(axis_limits[k])
    ax.set_ylim(0, pdf_top[k])

for (i, j), curves in contours.items():
    ax = axes[i, j]
    for model_curves, c in zip(curves, colors):
        for kind, pts in model_curves:
            pts = np.asarray(pts, dtype=float)
            if kind == "loop":
                pts = np.vstack([pts, pts[:1]])
            ax.plot(pts[:, 0], pts[:, 1], color=c, lw=1.6, solid_joinstyle="round")
    ax.set_xlim(axis_limits[j])
    ax.set_ylim(axis_limits[i])

for (i, j), ax in axes.items():
    ax.tick_params(labelsize=15, length=4, width=0.8)
    for s in ax.spines.values():
        s.set_linewidth(0.9)
    ax.xaxis.set_major_locator(FixedLocator(axis_ticks[j]))
    if i == 4:
        ax.set_xticklabels(tick_text[j], rotation=45)
        ax.set_xlabel(axis_labels[j], fontsize=16)
        ax.xaxis.set_label_coords(0.5, -0.265)
    else:
        ax.set_xticklabels([])
    if i == j:
        ax.yaxis.set_major_locator(FixedLocator(pdf_ticks[i]))
        if i == 0:
            ax.set_yticklabels(pdf_text[0])
            ax.set_ylabel("PDF [a.u.]", fontsize=16)
            ax.yaxis.set_label_coords(-0.28, 0.5)
        else:
            ax.yaxis.tick_right()
            ax.set_yticklabels(pdf_text[i])
    else:
        ax.yaxis.set_major_locator(FixedLocator(axis_ticks[i]))
        if j == 0:
            ax.set_yticklabels(tick_text[i], rotation=45)
            ax.set_ylabel(axis_labels[i], fontsize=16)
            ax.yaxis.set_label_coords(-0.28, 0.5)
        else:
            ax.set_yticklabels([])

for n, (name, c) in enumerate(zip(models, colors)):
    fig.text(783 / W, 1 - (140 + 51 * n) / H, name, color=c, fontsize=18, va="center", ha="left")

fig.savefig("out.png", dpi=100)
